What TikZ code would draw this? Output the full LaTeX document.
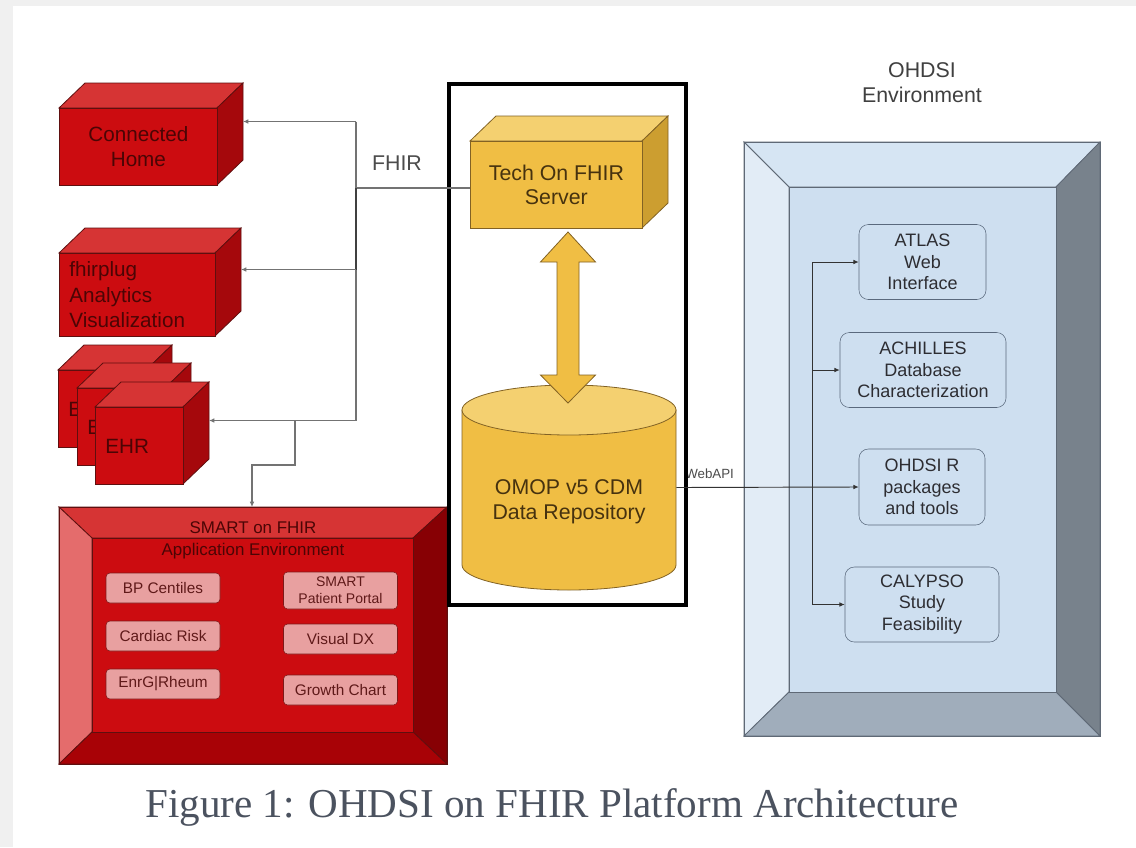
\documentclass[tikz,border=0pt]{standalone}
\usepackage{fontspec}
\setmainfont{Liberation Sans}
\newfontfamily\capfont{Liberation Serif}
\usetikzlibrary{shapes.geometric, arrows.meta, positioning, calc}
\definecolor{pageGray}{RGB}{240,240,240}
\definecolor{redFront}{RGB}{204,12,16}
\definecolor{redTop}{RGB}{214,52,52}
\definecolor{redSide}{RGB}{165,8,12}
\definecolor{redLine}{RGB}{95,15,15}
\definecolor{redText}{RGB}{75,5,5}
\definecolor{smartLeft}{RGB}{228,108,108}
\definecolor{smartRight}{RGB}{135,0,4}
\definecolor{smartBottom}{RGB}{168,2,6}
\definecolor{appFill}{RGB}{232,160,160}
\definecolor{appLine}{RGB}{125,25,25}
\definecolor{appText}{RGB}{95,25,25}
\definecolor{goldFront}{RGB}{240,190,68}
\definecolor{goldTop}{RGB}{244,208,112}
\definecolor{goldSide}{RGB}{204,158,48}
\definecolor{goldLine}{RGB}{130,98,36}
\definecolor{goldText}{RGB}{70,50,15}
\definecolor{blueInner}{RGB}{206,223,240}
\definecolor{blueTop}{RGB}{214,229,243}
\definecolor{blueLeft}{RGB}{226,236,246}
\definecolor{blueRight}{RGB}{120,130,140}
\definecolor{blueBottom}{RGB}{160,173,187}
\definecolor{blueLine}{RGB}{95,105,118}
\definecolor{toolLine}{RGB}{90,105,125}
\definecolor{toolText}{RGB}{45,45,50}
\definecolor{linkGray}{RGB}{115,115,115}
\definecolor{capText}{RGB}{75,82,95}

\newcommand{\pxu}{0.75pt}

\tikzset{
  red top/.style={fill=redTop, draw=redLine, line width=0.6pt},
  red side/.style={fill=redSide, draw=redLine, line width=0.6pt},
  red front/.style={fill=redFront, draw=redLine, line width=0.6pt, text=redText, font=\fontsize{15.5}{19}\selectfont, align=center, inner sep=0pt},
  gold top/.style={fill=goldTop, draw=goldLine, line width=0.6pt},
  gold side/.style={fill=goldSide, draw=goldLine, line width=0.6pt},
  gold front/.style={fill=goldFront, draw=goldLine, line width=0.6pt, text=goldText, font=\fontsize{16}{18}\selectfont, align=center, inner sep=0pt},
  bev top/.style={}, bev left/.style={}, bev right/.style={}, bev bottom/.style={}, bev inner/.style={}, bev line/.style={draw},
  link/.style={draw=linkGray, line width=0.9pt},
  toollink/.style={draw=black!80, line width=0.7pt},
  tip/.style={-{Latex[length=4pt,width=3.5pt]}},
  appbox/.style={draw=appLine, fill=appFill, rounded corners=3pt, minimum width=114*\pxu, minimum height=30*\pxu, font=\fontsize{11.5}{13}\selectfont, text=appText, align=center, inner sep=1pt},
  toolbox/.style={draw=toolLine, fill=blueInner, rounded corners=7pt, minimum height=75*\pxu, align=center, font=\fontsize{13.5}{16}\selectfont, text=toolText, inner sep=1pt}
}

% cube: palette, front options, name, x, y, width, height, text
\newcommand{\boxcube}[8]{%
  \filldraw[#1 top] (#4,#5) -- ++(26,-25) -- ++(#6,0) -- ++(-26,25) -- cycle;
  \filldraw[#1 side] (#4+#6,#5) -- ++(26,-25) -- ++(0,#7) -- ++(-26,25) -- cycle;
  \node[#1 front, #2, anchor=north west, minimum width=#6*\pxu, minimum height=#7*\pxu] (#3) at (#4,#5) {#8};
  \coordinate (#3-r) at (#4+#6+26,#5+#7/2-25);
}

% bevelled frame: name, outer x1 y1 x2 y2, inner x1 y1 x2 y2
\newcommand{\bevelbox}[9]{%
  \filldraw[bev top, bev line] (#2,#3) -- (#4,#3) -- (#8,#7) -- (#6,#7) -- cycle;
  \filldraw[bev left, bev line] (#2,#3) -- (#6,#7) -- (#6,#9) -- (#2,#5) -- cycle;
  \filldraw[bev right, bev line] (#4,#3) -- (#4,#5) -- (#8,#9) -- (#8,#7) -- cycle;
  \filldraw[bev bottom, bev line] (#2,#5) -- (#6,#9) -- (#8,#9) -- (#4,#5) -- cycle;
  \filldraw[bev inner, bev line] (#6,#7) rectangle (#8,#9);
  \node[bev line, anchor=north west, inner sep=0pt, minimum width=(#4-#2)*\pxu, minimum height=(#5-#3)*\pxu] (#1) at (#2,#3) {};
}

\begin{document}
\begin{tikzpicture}[x=0.75pt, y=-0.75pt]
% page
\fill[pageGray] (0,0) rectangle (1136,847);
\fill[white] (13,6) rectangle (1136,847);
\useasboundingbox (0,0) rectangle (1136,847);

% Clients
\boxcube{red}{}{ch}{59}{108}{158}{77}{Connected\\Home}
\boxcube{red}{align=left, text width=102pt}{fp}{59}{253}{156}{83}{fhirplug\\Analytics\\Visualization}
\boxcube{red}{align=left, text width=51pt}{ehrA}{58}{370}{88}{77}{EHR}
\boxcube{red}{align=left, text width=51pt}{ehrB}{77}{388}{88}{77}{EHR}
\boxcube{red}{align=left, text width=51pt}{ehr}{95}{407}{88}{77}{EHR}

% SMART on FHIR
\begin{scope}[bev top/.style={fill=redTop}, bev left/.style={fill=smartLeft}, bev right/.style={fill=smartRight},
  bev bottom/.style={fill=smartBottom}, bev inner/.style={fill=redFront}, bev line/.style={draw=redLine, line width=0.6pt}]
  \bevelbox{smart}{59}{507}{447}{764}{92}{538}{413}{732}
\end{scope}
\node[font=\fontsize{12.7}{16.5}\selectfont, text=redText, align=center] (smartTitle) at (253,540) {SMART on FHIR\\Application Environment};
\node[appbox] (bp) at (163,588) {BP Centiles};
\node[appbox] (cardiac) at (163,636) {Cardiac Risk};
\node[appbox] (enrg) at (163,684) {EnrG\textbar Rheum};
\node[appbox, minimum height=37*\pxu, font=\fontsize{10.5}{12.75}\selectfont] (portal) at (340.5,590.5) {SMART\\Patient Portal};
\node[appbox] (visual) at (340.5,639) {Visual DX};
\node[appbox] (growth) at (340.5,690) {Growth Chart};

% Server and repository
\boxcube{gold}{}{tech}{470}{141}{172}{87}{Tech On FHIR\\Server}
% cylinder
\filldraw[fill=goldFront, draw=goldLine, line width=0.6pt] (462,410) -- (462,565)
  arc[start angle=180, end angle=0, x radius=107, y radius=25] -- (676,410) -- cycle;
\filldraw[fill=goldTop, draw=goldLine, line width=0.6pt] (569,410) ellipse[x radius=107, y radius=25];
\node[minimum width=214*\pxu, minimum height=205*\pxu, inner sep=0pt] (db) at (569,487.5) {};
\node[text=goldText, font=\fontsize{16}{18.75}\selectfont, align=center] (dbLabel) at (569,502) {OMOP v5 CDM\\Data Repository};
% two-way link
\filldraw[fill=goldFront, draw=goldLine, line width=0.6pt] (568,232) -- (595.5,262) -- (579,262) -- (579,375) -- (595.5,375)
  -- (568,403) -- (540.5,375) -- (557,375) -- (557,262) -- (540.5,262) -- cycle;

\node[anchor=west, font=\fontsize{10}{12}\selectfont, text=black!70, inner sep=0pt] (webapi) at (685,474) {WebAPI};
\node[draw=black, line width=3pt, anchor=north west, inner sep=0pt, minimum width=237*\pxu, minimum height=521*\pxu] (core) at (447,82) {};

% FHIR links
\node[font=\fontsize{16}{19}\selectfont, text=black!70] (fhirLabel) at (397,163) {FHIR};
\coordinate (bus) at (356,188);
\draw[link] (tech.west |- bus) -- (bus);
\draw[link] (ch-r -| bus) -- (ehr-r -| bus);
\draw[link, draw=black!75] (bus) -- (fp-r -| bus);
\foreach \dst in {ch, fp, ehr} \draw[link, tip] (\dst-r -| bus) -- (\dst-r);
\coordinate (tap) at (295,420);
\coordinate (kink) at (252,465);
\draw[link, tip] (tap) |- (kink) -- (kink |- smart.north);

% OHDSI environment
\node[align=center, font=\fontsize{16}{18.75}\selectfont, text=black!75] (envLabel) at (922,82.5) {OHDSI\\Environment};
\begin{scope}[bev top/.style={fill=blueTop}, bev left/.style={fill=blueLeft}, bev right/.style={fill=blueRight},
  bev bottom/.style={fill=blueBottom}, bev inner/.style={fill=blueInner}, bev line/.style={draw=blueLine, line width=0.6pt}]
  \bevelbox{ohdsi}{744}{142}{1100}{736}{789}{187}{1056}{692}
\end{scope}
\node[toolbox, minimum width=127*\pxu] (atlas) at (922.5,262) {ATLAS\\Web\\Interface};
\node[toolbox, minimum width=166*\pxu] (achilles) at (923,370) {ACHILLES\\Database\\Characterization};
\node[toolbox, minimum width=126*\pxu, minimum height=76*\pxu] (rpkg) at (922,487) {OHDSI R\\packages\\and tools};
\node[toolbox, minimum width=154*\pxu] (calypso) at (922,604.5) {CALYPSO\\Study\\Feasibility};

\coordinate (tbus) at (812,0);
\draw[toollink] (atlas.west -| tbus) -- (calypso.west -| tbus);
\foreach \dst in {atlas, achilles, calypso} \draw[toollink, tip] (\dst.west -| tbus) -- (\dst.west);
\draw[toollink, tip] (db.east) -- (rpkg.west);

% Caption
\node[font=\capfont\fontsize{30.8}{36}\selectfont, text=capText] (caption) at (552,807) {Figure 1: OHDSI on FHIR Platform Architecture};
\end{tikzpicture}
\end{document}
